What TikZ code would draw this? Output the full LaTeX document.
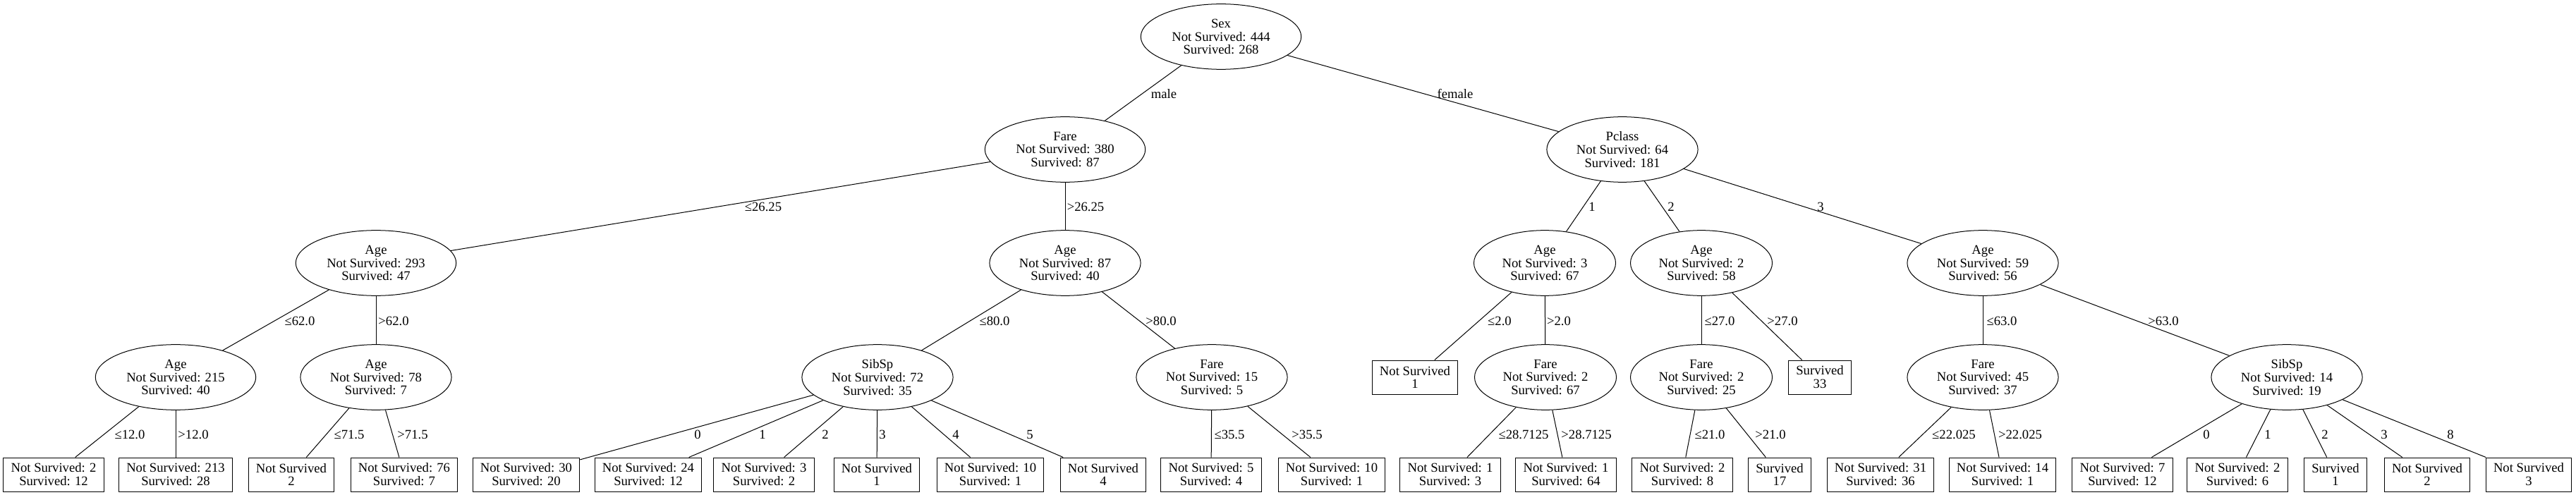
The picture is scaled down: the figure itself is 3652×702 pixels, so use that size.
\documentclass[tikz,border=0pt]{standalone}
\usepackage{fontspec}
\setmainfont{Liberation Serif}
\usetikzlibrary{shapes.geometric}

\begin{document}
\begin{tikzpicture}[x=0.75pt,y=-0.75pt,
  every node/.style={font=\fontsize{14}{14.2}\selectfont},
  split/.style={ellipse,draw,line width=0.75pt,align=center,inner xsep=8pt,inner ysep=2pt,minimum height=69.5pt},
  leaf/.style={rectangle,draw,line width=0.75pt,align=center,inner xsep=8pt,inner ysep=2pt,minimum height=36pt},
  cond/.style={inner sep=0pt},
  edge/.style={line width=0.75pt}]
\useasboundingbox (0,0) rectangle (3652,702);
% splits
\node (sex) at (1731,52) [split] {Sex\\Not Survived: 444\\Survived: 268};
\node (fare) at (1510,212) [split] {Fare\\Not Survived: 380\\Survived: 87};
\node (pclass) at (2300,212) [split] {Pclass\\Not Survived: 64\\Survived: 181};
\node (agea) at (533,373) [split] {Age\\Not Survived: 293\\Survived: 47};
\node (ageb) at (1510,373) [split] {Age\\Not Survived: 87\\Survived: 40};
\node (agec) at (2190,373) [split] {Age\\Not Survived: 3\\Survived: 67};
\node (aged) at (2412,373) [split] {Age\\Not Survived: 2\\Survived: 58};
\node (agee) at (2811,373) [split] {Age\\Not Survived: 59\\Survived: 56};
\node (agef) at (249,535) [split] {Age\\Not Survived: 215\\Survived: 40};
\node (ageg) at (533,535) [split] {Age\\Not Survived: 78\\Survived: 7};
\node (siba) at (1244,535) [split] {SibSp\\Not Survived: 72\\Survived: 35};
\node (farea) at (1718,535) [split] {Fare\\Not Survived: 15\\Survived: 5};
\node (fareb) at (2191,535) [split] {Fare\\Not Survived: 2\\Survived: 67};
\node (farec) at (2412,535) [split] {Fare\\Not Survived: 2\\Survived: 25};
\node (fared) at (2811,535) [split] {Fare\\Not Survived: 45\\Survived: 37};
\node (sibb) at (3242,535) [split] {SibSp\\Not Survived: 14\\Survived: 19};
% leaves
\node (ns1) at (2006,535) [leaf] {Not Survived\\1};
\node (s33) at (2580,535) [leaf] {Survived\\33};
\node (l1) at (76,673) [leaf] {Not Survived: 2\\Survived: 12};
\node (l2) at (249,673) [leaf] {Not Survived: 213\\Survived: 28};
\node (l3) at (413,673) [leaf] {Not Survived\\2};
\node (l4) at (573,673) [leaf] {Not Survived: 76\\Survived: 7};
\node (l5) at (746,673) [leaf] {Not Survived: 30\\Survived: 20};
\node (l6) at (919,673) [leaf] {Not Survived: 24\\Survived: 12};
\node (l7) at (1083,673) [leaf] {Not Survived: 3\\Survived: 2};
\node (l8) at (1243,673) [leaf] {Not Survived\\1};
\node (l9) at (1404,673) [leaf] {Not Survived: 10\\Survived: 1};
\node (l10) at (1564,673) [leaf] {Not Survived\\4};
\node (l11) at (1717,673) [leaf] {Not Survived: 5\\Survived: 4};
\node (l12) at (1888,673) [leaf] {Not Survived: 10\\Survived: 1};
\node (l13) at (2056,673) [leaf] {Not Survived: 1\\Survived: 3};
\node (l14) at (2220,673) [leaf] {Not Survived: 1\\Survived: 64};
\node (l15) at (2385,673) [leaf] {Not Survived: 2\\Survived: 8};
\node (l16) at (2523,673) [leaf] {Survived\\17};
\node (l17) at (2666,673) [leaf] {Not Survived: 31\\Survived: 36};
\node (l18) at (2839,673) [leaf] {Not Survived: 14\\Survived: 1};
\node (l19) at (3009,673) [leaf] {Not Survived: 7\\Survived: 12};
\node (l20) at (3172,673) [leaf] {Not Survived: 2\\Survived: 6};
\node (l21) at (3311,673) [leaf] {Survived\\1};
\node (l22) at (3441,673) [leaf] {Not Survived\\2};
\node (l23) at (3585,673) [leaf] {Not Survived\\3};
% edges
\draw[edge] (sex)--(fare);
\draw[edge] (sex)--(pclass);
\draw[edge] (fare)--(agea);
\draw[edge] (fare)--(ageb);
\draw[edge] (pclass)--(agec);
\draw[edge] (pclass)--(aged);
\draw[edge] (pclass)--(agee);
\draw[edge] (agea)--(agef);
\draw[edge] (agea)--(ageg);
\draw[edge] (ageb)--(siba);
\draw[edge] (ageb)--(farea);
\draw[edge] (agec)--(ns1);
\draw[edge] (agec)--(fareb);
\draw[edge] (aged)--(farec);
\draw[edge] (aged)--(s33);
\draw[edge] (agee)--(fared);
\draw[edge] (agee)--(sibb);
\draw[edge] (agef)--(l1);
\draw[edge] (agef)--(l2);
\draw[edge] (ageg)--(l3);
\draw[edge] (ageg)--(l4);
\draw[edge] (siba)--(l5);
\draw[edge] (siba)--(l6);
\draw[edge] (siba)--(l7);
\draw[edge] (siba)--(l8);
\draw[edge] (siba)--(l9);
\draw[edge] (siba)--(l10);
\draw[edge] (farea)--(l11);
\draw[edge] (farea)--(l12);
\draw[edge] (fareb)--(l13);
\draw[edge] (fareb)--(l14);
\draw[edge] (farec)--(l15);
\draw[edge] (farec)--(l16);
\draw[edge] (fared)--(l17);
\draw[edge] (fared)--(l18);
\draw[edge] (sibb)--(l19);
\draw[edge] (sibb)--(l20);
\draw[edge] (sibb)--(l21);
\draw[edge] (sibb)--(l22);
\draw[edge] (sibb)--(l23);
% edge labels
\node (cmale) at (1650,133) [cond] {male};
\node (cfemale) at (2063,133) [cond] {female};
\node (cfa) at (1082,293) [cond] {≤26.25};
\node (cfb) at (1539,293) [cond] {>26.25};
\node (cpa) at (2257,293) [cond] {1};
\node (cpb) at (2369,293) [cond] {2};
\node (cpc) at (2581,293) [cond] {3};
\node (caa) at (425,455) [cond] {≤62.0};
\node (cab) at (558,455) [cond] {>62.0};
\node (cba) at (1410,455) [cond] {≤80.0};
\node (cbb) at (1646,455) [cond] {>80.0};
\node (cca) at (2126,455) [cond] {≤2.0};
\node (ccb) at (2210,455) [cond] {>2.0};
\node (cda) at (2438,455) [cond] {≤27.0};
\node (cdb) at (2527,455) [cond] {>27.0};
\node (cea) at (2838,455) [cond] {≤63.0};
\node (ceb) at (3067,455) [cond] {>63.0};
\node (cfga) at (184,616) [cond] {≤12.0};
\node (cfgb) at (274,616) [cond] {>12.0};
\node (cga) at (495,616) [cond] {≤71.5};
\node (cgb) at (585,616) [cond] {>71.5};
\node (csa) at (989,616) [cond] {0};
\node (csb) at (1081,616) [cond] {1};
\node (csc) at (1170,616) [cond] {2};
\node (csd) at (1251,616) [cond] {3};
\node (cse) at (1355,616) [cond] {4};
\node (csf) at (1460,616) [cond] {5};
\node (cqa) at (1743,616) [cond] {≤35.5};
\node (cqb) at (1853,616) [cond] {>35.5};
\node (cra) at (2160,616) [cond] {≤28.7125};
\node (crb) at (2249,616) [cond] {>28.7125};
\node (cta) at (2424,616) [cond] {≤21.0};
\node (ctb) at (2510,616) [cond] {>21.0};
\node (cua) at (2770,616) [cond] {≤22.025};
\node (cub) at (2864,616) [cond] {>22.025};
\node (cva) at (3128,616) [cond] {0};
\node (cvb) at (3215,616) [cond] {1};
\node (cvc) at (3296,616) [cond] {2};
\node (cvd) at (3380,616) [cond] {3};
\node (cve) at (3474,616) [cond] {8};
\end{tikzpicture}
\end{document}
